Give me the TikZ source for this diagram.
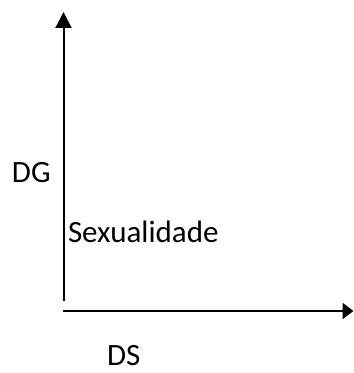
\documentclass[tikz,border=0pt]{standalone}
\usepackage{fontspec}
\setmainfont{Carlito}
\usetikzlibrary{positioning, arrows.meta}

\begin{document}
\begin{tikzpicture}[x=1pt, y=1pt, line width=2pt,
        label/.style={inner sep=0pt, anchor=base west, font=\fontsize{31}{37}\selectfont}]
                \useasboundingbox (0,0) rectangle (354,373);
                \coordinate (O1) at (63.5,72);
                \coordinate (Y) at (63.5,361);
                \coordinate (O2) at (63,62);
                \coordinate (X) at (353.5,62);

                \node[label] (DG) at (11,190) {DG};
                \node[label] (sex) at (67,130) {Sexualidade};
                \node[label] (DS) at (106,8) {DS};

                \draw[-{Triangle[length=16pt, width=16pt]}] (O1) -- (Y);
                \draw[-{Triangle[length=11pt, width=16pt]}] (O2) -- (X);
            \end{tikzpicture}
\end{document}
